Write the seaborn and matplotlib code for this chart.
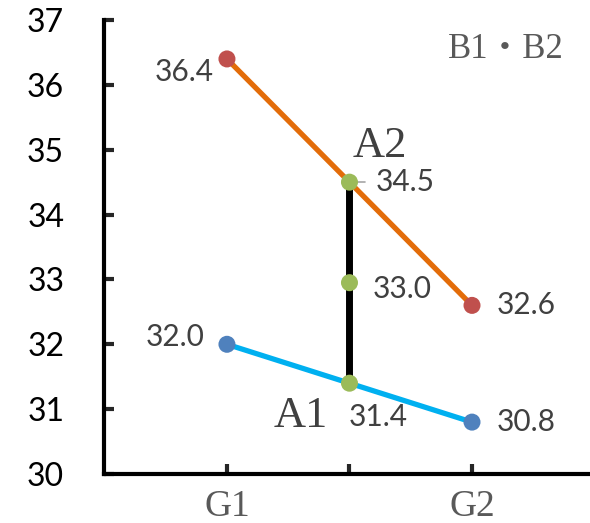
import matplotlib
matplotlib.use('Agg')
import matplotlib.pyplot as plt
import numpy as np
import pandas as pd
import seaborn as sns

# values
groups = ['G1', 'G2']
a1 = [32.0, 30.8]
a2 = [36.4, 32.6]
mid_vals = [31.4, 32.95, 34.5]
mid_labels = ['31.4', '33.0', '34.5']
y_ticks = [30, 31, 32, 33, 34, 35, 36, 37]

sns.set_theme(style='white')
plt.rcParams['font.family'] = ['Lato', 'DejaVu Sans']

gx = [0, 2]
df = pd.DataFrame({'x': gx * 2, 'y': a1 + a2, 'series': ['A1'] * 2 + ['A2'] * 2})

fig = plt.figure(figsize=(5.9, 5.23), dpi=100)
ax = fig.add_axes([0.177, 0.0937, 0.823, 0.868])

sns.lineplot(data=df, x='x', y='y', hue='series', palette={'A1': '#00B0F0', 'A2': '#E36C09'},
             linewidth=3.8, legend=False, ax=ax, zorder=2)
ax.plot([1, 1], [mid_vals[0], mid_vals[2]], color='black', linewidth=5, zorder=3,
        solid_capstyle='butt')
sns.scatterplot(x=gx, y=a1, color='#4F81BD', s=150, edgecolor='none', ax=ax, zorder=4)
sns.scatterplot(x=gx, y=a2, color='#C0504D', s=150, edgecolor='none', ax=ax, zorder=4)
sns.scatterplot(x=[1] * 3, y=mid_vals, color='#9BBB59', s=150, edgecolor='none', ax=ax, zorder=5)

lab = dict(fontsize=21.5, color='#404040')
ax.text(-0.11, a2[0] - 0.2, f'{a2[0]:.1f}', ha='right', va='center', **lab)
ax.text(-0.18, a1[0] + 0.12, f'{a1[0]:.1f}', ha='right', va='center', **lab)
ax.text(2.2, a2[1], f'{a2[1]:.1f}', ha='left', va='center', **lab)
ax.text(2.2, a1[1], f'{a1[1]:.1f}', ha='left', va='center', **lab)
ax.text(1.21, mid_vals[2], mid_labels[2], ha='left', va='center', **lab)
ax.plot([1.0, 1.13], [mid_vals[2], mid_vals[2]], color='#A6A6A6', linewidth=1.2, zorder=4)
ax.text(1.19, mid_vals[1] - 0.1, mid_labels[1], ha='left', va='center', **lab)
ax.text(0.99, mid_vals[0] - 0.52, mid_labels[0], ha='left', va='center', **lab)

serif = dict(family=['Liberation Serif', 'Noto Sans CJK JP'])
ax.text(1.25, 35.05, 'A2', ha='center', va='center', fontsize=32, color='#404040', **serif)
ax.text(0.6, 30.9, 'A1', ha='center', va='center', fontsize=32, color='#404040', **serif)
ax.text(1.8, 36.55, 'B1\u30fbB2', ha='left', va='center', fontsize=25, color='#595959', **serif)

ax.set_xlim(-1, 2.963)
ax.set_ylim(30, 37)
ax.set_yticks(y_ticks)
ax.set_yticklabels([str(t) for t in y_ticks], fontsize=23, color='black')
ax.set_xticks([0, 1, 2])
ax.set_xticklabels([groups[0], '', groups[1]], fontsize=27, color='#595959', **serif)
ax.set_xlabel('')
ax.set_ylabel('')

for s in ['top', 'right']:
    ax.spines[s].set_visible(False)
for s in ['left', 'bottom']:
    ax.spines[s].set_color('black')
    ax.spines[s].set_linewidth(3)
ax.spines['left'].set_bounds(30, 37)
ax.tick_params(axis='y', direction='in', length=7, width=3, pad=29, left=True)
ax.tick_params(axis='x', direction='in', length=7, width=3, pad=11, bottom=True)

fig.savefig('out.png', dpi=100)
